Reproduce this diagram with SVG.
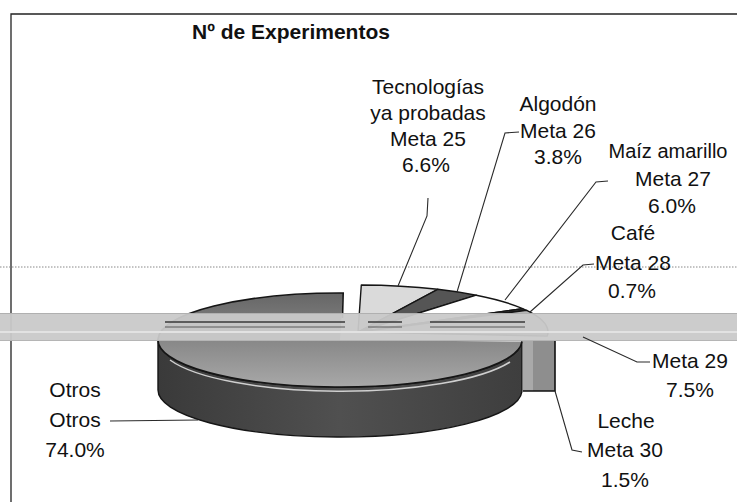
<svg xmlns="http://www.w3.org/2000/svg" width="737" height="502" viewBox="0 0 737 502">
  <defs>
    <linearGradient id="topFace" x1="0" y1="0" x2="0" y2="1">
      <stop offset="0" stop-color="#666666"/>
      <stop offset="0.6" stop-color="#8e8e8e"/>
      <stop offset="1" stop-color="#a8a8a8"/>
    </linearGradient>
    <linearGradient id="sideFace" x1="0" y1="0" x2="1" y2="0">
      <stop offset="0" stop-color="#3a3a3a"/>
      <stop offset="0.5" stop-color="#505050"/>
      <stop offset="1" stop-color="#3e3e3e"/>
    </linearGradient>
    <style>
      .lbl { font-family: "Liberation Sans", Arial, sans-serif; font-size: 21px; fill: #111; text-anchor: middle; }
      .ttl { font-family: "Liberation Sans", Arial, sans-serif; font-size: 21px; font-weight: bold; fill: #111; }
      .edge { stroke: #151515; stroke-width: 1.4; stroke-linejoin: round; }
      .rim { fill: none; stroke: #151515; stroke-width: 1.6; }
      .conn { fill: none; stroke: #2a2a2a; stroke-width: 1.1; }
      .frame { fill: none; stroke: #222; stroke-width: 1.3; }
    </style>
  </defs>

  <rect x="0" y="0" width="737" height="502" fill="#ffffff"/>

  <g id="frame">
    <path class="frame" d="M11,502 L11,14 L737,14"/>
    <line x1="0" y1="267" x2="737" y2="267" stroke="#888" stroke-width="1" stroke-dasharray="1.5,1.5"/>
  </g>

  <g id="title">
    <text class="ttl" x="192" y="39">Nº de Experimentos</text>
  </g>

  <g id="n-otros">
    <path class="edge" fill="url(#sideFace)" d="M521.9,341.6 A182,47 0 0 1 158,340 L158,390 A182,47 0 0 0 521.9,391.6 Z"/>
    <path fill="url(#topFace)" d="M340,340 L521.9,341.6 A182,47 0 1 1 343.2,293 Z"/>
    <path class="rim" d="M521.9,341.6 A182,47 0 1 1 343.2,293 L342.5,318"/>
    <path d="M170,360 A182,47 0 0 0 510,362" fill="none" stroke="#cfcfcf" stroke-width="1.5"/>
    <text class="lbl" x="75" y="397">Otros</text>
    <text class="lbl" x="75" y="427">Otros</text>
    <text class="lbl" x="75" y="457">74.0%</text>
  </g>

  <g id="n-meta25">
    <path class="edge" fill="#dadada" d="M358,332 L361.3,285 A190,47 0 0 1 437.7,289.3 Z"/>
    <text class="lbl" x="428" y="94">Tecnologías</text>
    <text class="lbl" x="428" y="120">ya probadas</text>
    <text class="lbl" x="428" y="146">Meta 25</text>
    <text class="lbl" x="426" y="172">6.6%</text>
  </g>

  <g id="n-meta26">
    <path class="edge" fill="#555555" d="M358,332 L437.7,289.3 A190,47 0 0 1 476.3,295.2 Z"/>
    <text class="lbl" x="558" y="111">Algodón</text>
    <text class="lbl" x="558" y="138">Meta 26</text>
    <text class="lbl" x="558" y="164">3.8%</text>
  </g>

  <g id="n-meta27">
    <path class="edge" fill="#ffffff" d="M358,332 L476.3,295.2 A190,47 0 0 1 522.7,308.6 Z"/>
    <text class="lbl" x="668" y="158" style="font-size:20px">Maíz amarillo</text>
    <text class="lbl" x="673" y="186">Meta 27</text>
    <text class="lbl" x="672" y="213">6.0%</text>
  </g>

  <g id="n-meta28">
    <path class="edge" fill="#333333" d="M358,332 L522.7,308.6 A190,47 0 0 1 526.7,310.4 Z"/>
    <text class="lbl" x="633" y="240">Café</text>
    <text class="lbl" x="633" y="270">Meta 28</text>
    <text class="lbl" x="632" y="298">0.7%</text>
  </g>

  <g id="n-meta29">
    <path class="edge" fill="#b8b8b8" d="M358,332 L526.7,310.4 A190,47 0 0 1 548,331.7 Z"/>
    <text class="lbl" x="690" y="368">Meta 29</text>
    <text class="lbl" x="690" y="397">7.5%</text>
  </g>

  <g id="n-meta30">
    <path class="edge" fill="#8e8e8e" d="M358,332 L548,331.7 A190,47 0 0 1 547.3,336.1 Z"/>
    <rect x="523" y="340" width="32" height="51" fill="#8e8e8e"/>
    <rect x="523" y="340" width="10" height="51" fill="#a9a9a9"/>
    <path d="M523,391 L555,391 L555,340" fill="none" stroke="#111" stroke-width="1.6"/>
    <text class="lbl" x="626" y="428">Leche</text>
    <text class="lbl" x="625" y="457">Meta 30</text>
    <text class="lbl" x="625" y="487">1.5%</text>
  </g>

  <g id="scan-band">
    <rect x="0" y="313" width="737" height="28" fill="#c9c9c9" opacity="0.95"/>
    <line x1="0" y1="313.5" x2="737" y2="313.5" stroke="#b0b0b0" stroke-width="1"/>
    <line x1="0" y1="340.5" x2="737" y2="340.5" stroke="#b5b5b5" stroke-width="1"/>
    <path d="M165,322 L345,322 M368,322 L402,322 M430,322 L525,322" stroke="#3a3a3a" stroke-width="1.3"/>
    <path d="M165,327 L345,327 M368,327 L402,327 M430,327 L525,327" stroke="#5a5a5a" stroke-width="1"/>
    <path d="M0,332 L737,332" stroke="#e2e2e2" stroke-width="2"/>
  </g>

  <g id="connectors">
    <path class="conn" d="M110,421 L198,420"/>
    <path class="conn" d="M428,198 L427,216 L398,286"/>
    <path class="conn" d="M519,132 L505,133 L457,292"/>
    <path class="conn" d="M608,181 L596,182 L505,300"/>
    <path class="conn" d="M594,264 L583,265 L530,312"/>
    <path class="conn" d="M650,362 L637,362 L583,337"/>
    <path class="conn" d="M555,391 L572,450 L582,452"/>
  </g>
</svg>
